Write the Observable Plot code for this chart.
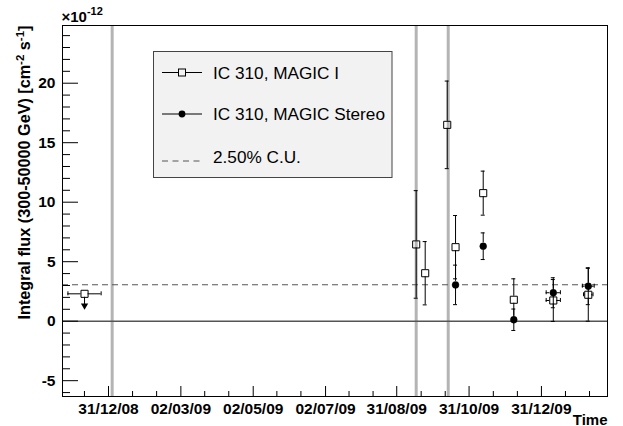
<!DOCTYPE html>
<html><head><meta charset="utf-8">
<script src="https://cdn.jsdelivr.net/npm/d3@7"></script>
<script src="https://cdn.jsdelivr.net/npm/@observablehq/plot@0.6"></script>
<style>
html,body{margin:0;padding:0;background:#fff;}
#wrap{position:relative;width:623px;height:426px;overflow:hidden;font-family:"Liberation Sans",Arial,Helvetica,sans-serif;}
#legend{position:absolute;left:153px;top:51px;}
</style></head><body><div id="wrap"></div>
<script>
// ---- data ----
const magicIDates = ["2008-12-10T19:00Z","2009-09-16T10:00Z","2009-09-24T00:00Z","2009-10-12T14:00Z","2009-10-19T14:00Z","2009-11-11T22:00Z","2009-12-07T17:00Z","2010-01-10T00:00Z","2010-02-08T12:00Z"];
const magicIFlux  = [2.3, 6.45, 4.03, 16.5, 6.22, 10.76, 1.8, 1.74, 2.22];
const magicIErr   = [0, 4.52, 2.66, 3.68, 2.66, 1.85, 1.76, 1.76, 2.22];
const magicIXErr  = [14, 0, 0, 0, 0, 0, 0, 6, 4];      // days
const magicIULTip = [1.04, null, null, null, null, null, null, null, null]; // upper-limit arrow tip

const stereoDates = ["2009-10-19T14:00Z","2009-11-11T22:00Z","2009-12-07T17:00Z","2010-01-10T00:00Z","2010-02-08T12:00Z"];
const stereoFlux  = [3.05, 6.3, 0.12, 2.39, 2.94];
const stereoErr   = [1.66, 1.12, 0.9, 1.26, 1.55];
const stereoXErr  = [0, 0, 0, 6, 5];

const crabLevel = 3.06;   // 2.50% C.U.
const greyLineDates = ["2009-01-03T02:00Z","2009-09-16T10:00Z","2009-10-13T10:00Z"];

const xTickDates = ["2008-12-31T00:00Z","2009-03-02T00:00Z","2009-05-02T00:00Z","2009-07-02T00:00Z","2009-08-31T00:00Z","2009-10-31T00:00Z","2009-12-31T00:00Z"];
const yTicks = [-5, 0, 5, 10, 15, 20];

const legendLabels = ["IC 310, MAGIC I", "IC 310, MAGIC Stereo", "2.50% C.U."];
const yTitleParts = [["Integral flux (300-50000 GeV) [cm", 0], ["-2", 1], [" s", 0], ["-1", 1], ["]", 0]];
const yTitle = yTitleParts.map(p => p[0]).join("");
const xTitle = "Time";
const expParts = [["\u00D710", 0], ["-12", 1]];
const expLabel = expParts.map(p => p[0]).join("");

// ---- build ----
const DAY = 864e5;
const W = 623, H = 426, mL = 62, mR = 16, mT = 25, mB = 30;
const innerW = W - mL - mR, innerH = H - mT - mB;

const mI = magicIDates.map((d, i) => ({date: new Date(d), flux: magicIFlux[i], err: magicIErr[i], xerr: magicIXErr[i], tip: magicIULTip[i]}));
const st = stereoDates.map((d, i) => ({date: new Date(d), flux: stereoFlux[i], err: stereoErr[i], xerr: stereoXErr[i], tip: null}));
const pts = [...mI, ...st];
const ebar = pts.filter(d => d.tip == null && d.err > 0);
const hbar = pts.filter(d => d.xerr > 0);
const ul = mI.filter(d => d.tip != null);
const gap = 3.5;

const xMajor = xTickDates.map(d => new Date(d));
const step = (xMajor[xMajor.length - 1] - xMajor[0]) / (xMajor.length - 1);
const xDomain = [new Date("2008-11-22T05:00Z"), new Date("2010-02-24T17:00Z")];
const xMinor = d3.range(-3, 3 * xMajor.length + 3).filter(k => k % 3 !== 0)
  .map(k => new Date(+xMajor[0] + k * step / 3))
  .filter(d => d > xDomain[0] && d < xDomain[1]);
const yMinor = d3.range(-6, 25).filter(v => v % 5 !== 0);

const capsV = ebar.flatMap(d => [{date: d.date, v: d.flux + d.err}, {date: d.date, v: d.flux - d.err}]);
const capsH = hbar.flatMap(d => [{date: new Date(+d.date - d.xerr * DAY), v: d.flux}, {date: new Date(+d.date + d.xerr * DAY), v: d.flux}]);

const chart = Plot.plot({
  width: W, height: H, marginLeft: mL, marginRight: mR, marginTop: mT, marginBottom: mB,
  x: {type: "utc", domain: xDomain},
  y: {domain: [-6.33, 24.85]},
  style: {fontFamily: "'Liberation Sans', Arial, Helvetica, sans-serif", fontSize: "15.5px", fontWeight: "bold", color: "black", background: "white"},
  marks: [
    Plot.ruleX(greyLineDates.map(d => new Date(d)), {x: d => d, stroke: "#b4b4b4", strokeWidth: 3}),
    Plot.ruleY([0], {y: d => d, stroke: "#555", strokeWidth: 1.5}),
    Plot.ruleY([crabLevel], {y: d => d, stroke: "#555", strokeWidth: 1.2, strokeDasharray: "6,4"}),
    // vertical error bars
    Plot.ruleX(ebar, {x: "date", y1: d => d.flux + d.err, y2: "flux", insetBottom: gap, stroke: "black"}),
    Plot.ruleX(ebar, {x: "date", y1: "flux", y2: d => d.flux - d.err, insetTop: gap, stroke: "black"}),
    Plot.ruleY(capsV, {x1: "date", x2: "date", y: "v", insetLeft: -2, insetRight: -2, stroke: "black"}),
    // horizontal error bars
    Plot.ruleY(hbar, {y: "flux", x1: "date", x2: d => new Date(+d.date + d.xerr * DAY), insetLeft: gap, stroke: "black"}),
    Plot.ruleY(hbar, {y: "flux", x1: d => new Date(+d.date - d.xerr * DAY), x2: "date", insetRight: gap, stroke: "black"}),
    Plot.ruleX(capsH, {x: "date", y1: "v", y2: "v", insetTop: -2, insetBottom: -2, stroke: "black"}),
    // upper limit arrow
    Plot.ruleX(ul, {x: "date", y1: "flux", y2: "tip", insetTop: gap, insetBottom: 4, stroke: "black"}),
    Plot.dot(ul, {x: "date", y: "tip", symbol: "triangle", rotate: 180, r: 2.7, fill: "black", stroke: "none", dy: -3.3}),
    // markers
    Plot.dot(mI, {x: "date", y: "flux", symbol: "square", r: 4, fill: "none", stroke: "black", strokeWidth: 1}),
    Plot.dot(st, {x: "date", y: "flux", r: 3.4, fill: "black", stroke: "black", strokeWidth: 0.5}),
    // inward ticks
    Plot.tickY(yTicks, {y: d => d, insetRight: innerW - 16, stroke: "black"}),
    Plot.tickY(yMinor, {y: d => d, insetRight: innerW - 8, stroke: "black"}),
    Plot.tickX(xMajor, {x: d => d, insetTop: innerH - 10, stroke: "black"}),
    Plot.tickX(xMinor, {x: d => d, insetTop: innerH - 5, stroke: "black"}),
    // axis labels
    Plot.axisX({ticks: xMajor, tickSize: 0, tickPadding: 6, tickFormat: d3.utcFormat("%d/%m/%y"), label: null}),
    Plot.axisY({ticks: yTicks, tickSize: 0, tickPadding: 7, tickFormat: d => String(d), label: null}),
    Plot.frame({stroke: "black", strokeWidth: 1}),
    Plot.text([yTitle], {text: d => d, frameAnchor: "top-left", rotate: -90, textAnchor: "end", dx: -44, dy: 0, fontSize: 16.2, fontWeight: "bold"}),
    Plot.text([expLabel], {text: d => d, frameAnchor: "top-left", textAnchor: "start", lineAnchor: "bottom", dx: -1, dy: -3.5, fontSize: 15, fontWeight: "bold"}),
    Plot.text([xTitle], {text: d => d, frameAnchor: "bottom-right", textAnchor: "end", lineAnchor: "bottom", dx: 0, dy: 28, fontSize: 15, fontWeight: "bold"})
  ]
});
const wrap = document.getElementById("wrap");
wrap.appendChild(chart);

// superscripts as tspans
function superscript(full, parts, shift, small) {
  d3.select(chart).selectAll("text").filter(function () { return this.textContent === full; })
    .each(function () {
      const t = d3.select(this).text(null);
      let up = false;
      parts.forEach(([s, sup]) => {
        const ts = t.append("tspan").text(s);
        if (sup && !up) { ts.attr("dy", -shift).attr("font-size", small); up = true; }
        else if (sup) { ts.attr("font-size", small); }
        else if (up) { ts.attr("dy", shift); up = false; }
      });
    });
}
superscript(yTitle, yTitleParts, 6, 11.5);
superscript(expLabel, expParts, 7, 11);

// legend overlay
const lg = d3.select(wrap).append("svg").attr("id", "legend").attr("width", 241).attr("height", 128)
  .style("font-family", "'Liberation Sans', Arial, sans-serif");
lg.append("rect").attr("x", 0.5).attr("y", 0.5).attr("width", 238.5).attr("height", 126).attr("fill", "#f2f2f2").attr("stroke", "#444");
const rowY = [21.5, 63, 106];
lg.append("line").attr("x1", 9).attr("x2", 49).attr("y1", rowY[0]).attr("y2", rowY[0]).attr("stroke", "black");
lg.append("rect").attr("x", 25.5).attr("y", rowY[0] - 3.5).attr("width", 7).attr("height", 7).attr("fill", "#f2f2f2").attr("stroke", "black");
lg.append("line").attr("x1", 9).attr("x2", 49).attr("y1", rowY[1]).attr("y2", rowY[1]).attr("stroke", "black");
lg.append("circle").attr("cx", 29).attr("cy", rowY[1]).attr("r", 3.4).attr("fill", "black");
lg.append("line").attr("x1", 9).attr("x2", 49).attr("y1", rowY[2] + 4).attr("y2", rowY[2] + 4).attr("stroke", "#555").attr("stroke-dasharray", "6,4.5");
legendLabels.forEach((t, i) => {
  lg.append("text").attr("x", 60).attr("y", rowY[i] + 6).attr("font-size", 17.2).attr("fill", "black").text(t);
});
</script></body></html>
